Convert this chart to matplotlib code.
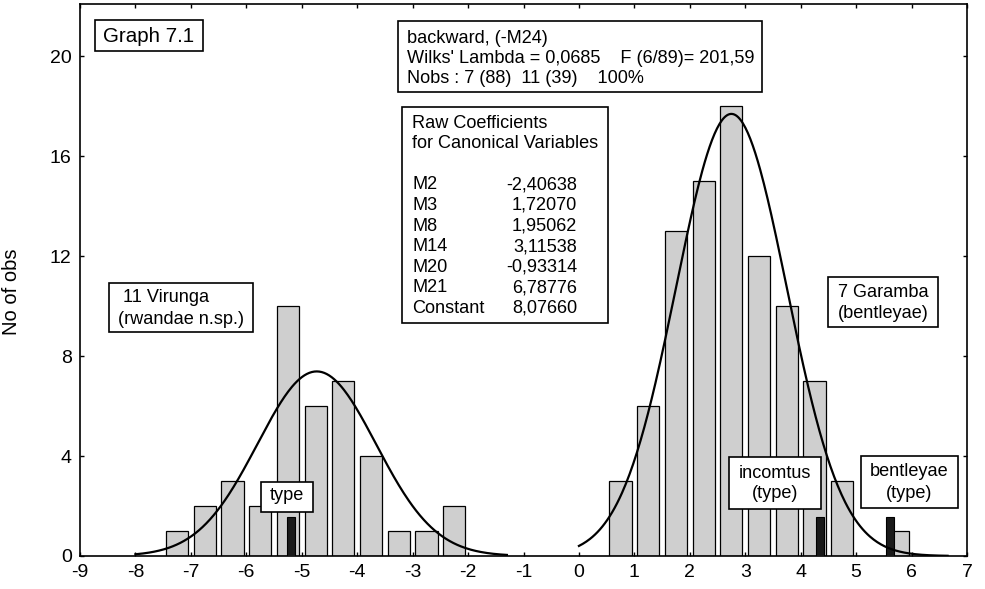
import matplotlib
matplotlib.use("Agg")
import matplotlib.pyplot as plt
from matplotlib.patches import Rectangle
import numpy as np

plt.rcParams["font.family"] = ["Liberation Sans", "DejaVu Sans"]
plt.rcParams["axes.unicode_minus"] = False

# histogram of canonical scores, bin width 0.5
virunga_centers = [-7.25, -6.75, -6.25, -5.75, -5.25, -4.75, -4.25, -3.75, -3.25, -2.75, -2.25]
virunga_counts = [1, 2, 3, 2, 10, 6, 7, 4, 1, 1, 2]
garamba_centers = [0.75, 1.25, 1.75, 2.25, 2.75, 3.25, 3.75, 4.25, 4.75, 5.75]
garamba_counts = [3, 6, 13, 15, 18, 12, 10, 7, 3, 1]

# type specimens (black bars)
type_x = [-5.2, 4.35, 5.61]
type_h = [1.55, 1.55, 1.55]

# fitted normal curves: mean, sd, peak height, range
virunga_fit = (-4.73, 1.07, 7.39, -8.0, -1.3)
garamba_fit = (2.75, 1.0, 17.7, 0.0, 6.65)

xticks = list(range(-9, 8))
yticks = [0, 4, 8, 12, 16, 20]

W, H = 985, 589


def px(x, y):
    return x / W, 1 - y / H


def normal_curve(mean, sd, peak, x0, x1):
    xs = np.linspace(x0, x1, 300)
    return xs, peak * np.exp(-0.5 * ((xs - mean) / sd) ** 2)


def box(fig, x0, y0, x1, y1):
    fx0, fy1 = px(x0, y0)
    fx1, fy0 = px(x1, y1)
    fig.patches.append(Rectangle((fx0, fy0), fx1 - fx0, fy1 - fy0,
                                 transform=fig.transFigure, facecolor="white",
                                 edgecolor="black", linewidth=1.2, zorder=2))


def label(fig, x, y, s, size=13.1, ha="left"):
    fx, fy = px(x, y)
    fig.text(fx, fy, s, fontsize=size, ha=ha, va="center", zorder=3)


fig = plt.figure(figsize=(W / 100, H / 100), dpi=100)
ax = fig.add_axes([80 / W, (H - 556) / H, (967 - 80) / W, (556 - 4) / H])

ax.bar(virunga_centers, virunga_counts, width=0.4, color="#cfcfcf",
       edgecolor="black", linewidth=0.9, zorder=2)
ax.bar(garamba_centers, garamba_counts, width=0.4, color="#cfcfcf",
       edgecolor="black", linewidth=0.9, zorder=2)
ax.bar(type_x, type_h, width=0.15, color="#1a1a1a", edgecolor="black",
       linewidth=0.8, zorder=3)

for fit in (virunga_fit, garamba_fit):
    xs, ys = normal_curve(*fit)
    ax.plot(xs, ys, color="black", linewidth=1.6, zorder=4)

ax.set_xlim(-9, 7)
ax.set_ylim(0, 22.1)
ax.set_xticks(xticks)
ax.set_yticks(yticks)
ax.tick_params(direction="in", length=3, width=1, labelsize=14,
               top=True, right=True, pad=6)
for sp in ax.spines.values():
    sp.set_linewidth(1.2)
ax.set_ylabel("No of obs", fontsize=14.5)
ax.yaxis.set_label_coords(-0.0665, 0.478)

# annotation boxes
box(fig, 95, 20, 203, 51)
label(fig, 103, 36, "Graph 7.1", size=14.8)

box(fig, 398, 21, 762, 92)
for i, s in enumerate(["backward, (-M24)",
                       "Wilks' Lambda = 0,0685    F (6/89)= 201,59",
                       "Nobs : 7 (88)  11 (39)    100%"]):
    label(fig, 407, 38.5 + 20 * i, s)

box(fig, 402, 107, 608, 323)
label(fig, 412, 123, "Raw Coefficients")
label(fig, 412, 143.6, "for Canonical Variables")
coef_names = ["M2", "M3", "M8", "M14", "M20", "M21", "Constant"]
coef_vals = ["-2,40638", "1,72070", "1,95062", "3,11538", "-0,93314", "6,78776", "8,07660"]
for i, (n, v) in enumerate(zip(coef_names, coef_vals)):
    y = 123 + 20.6 * (i + 3)
    label(fig, 412, y, n)
    label(fig, 577, y, v, ha="right")

box(fig, 109, 283, 253, 332)
label(fig, 118, 298, " 11 Virunga")
label(fig, 118, 319, "(rwandae n.sp.)")

box(fig, 828, 277, 938, 327)
label(fig, 883, 293, "7 Garamba", ha="center")
label(fig, 883, 313, "(bentleyae)", ha="center")

box(fig, 261, 482, 313, 512)
label(fig, 287, 496, "type", ha="center")

box(fig, 729, 457, 821, 509)
label(fig, 775, 473, "incomtus", ha="center")
label(fig, 775, 494, "(type)", ha="center")

box(fig, 861, 456, 958, 508)
label(fig, 909.5, 472, "bentleyae", ha="center")
label(fig, 909.5, 493, "(type)", ha="center")

fig.savefig("out.png", dpi=100)
